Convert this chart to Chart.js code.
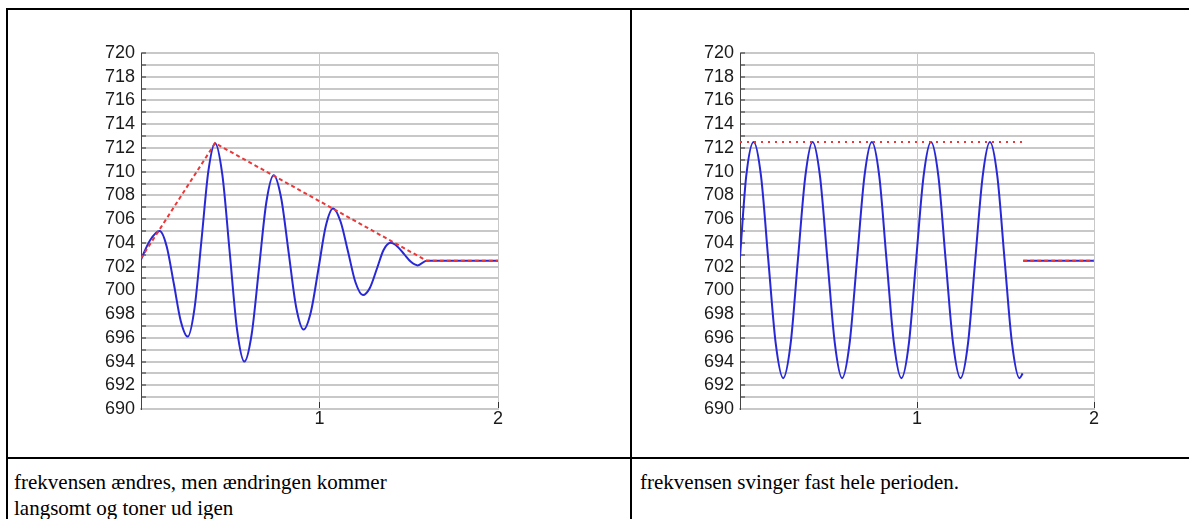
<!DOCTYPE html>
<html><head><meta charset="utf-8">
<script src="https://cdn.jsdelivr.net/npm/chart.js@4.4.0/dist/chart.umd.min.js"></script>
<style>
html,body{margin:0;padding:0;background:#fff;width:1189px;height:519px;overflow:hidden;position:relative;}
.b{position:absolute;background:#000;}
.txt{position:absolute;font-family:"Liberation Serif","Times New Roman",serif;font-size:21px;color:#000;line-height:26px;white-space:nowrap}
canvas{position:absolute}
</style></head><body>
<div class="b" style="left:6px;top:8px;width:1183px;height:2px"></div>
<div class="b" style="left:6px;top:8px;width:2px;height:511px"></div>
<div class="b" style="left:630px;top:8px;width:2px;height:511px"></div>
<div class="b" style="left:6px;top:457px;width:1183px;height:2px"></div>
<div class="txt" style="left:14px;top:469px">frekvensen ændres, men ændringen kommer<br>langsomt og toner ud igen</div>
<div class="txt" style="left:640px;top:469px">frekvensen svinger fast hele perioden.</div>
<canvas id="c1" width="440" height="400" style="left:80px;top:40px"></canvas>
<canvas id="c2" width="440" height="400" style="left:680px;top:40px"></canvas>
<script>
// ---- data ----
const leftWaveX = [0, 0.05, 0.105, 0.144, 0.184, 0.223, 0.262, 0.300, 0.339, 0.377, 0.415, 0.456, 0.497, 0.538, 0.579,
  0.620, 0.661, 0.702, 0.743, 0.785, 0.827, 0.869, 0.911, 0.952, 0.994, 1.035, 1.076, 1.118, 1.160, 1.201, 1.243,
  1.282, 1.321, 1.359, 1.398, 1.436, 1.474, 1.512, 1.550, 1.600, 2.0];
const leftWaveY = [702.6, 704.2, 705.0, 703.7, 700.55, 697.4, 696.1, 698.5, 704.25, 710.0, 712.4, 709.7, 703.2, 696.7, 694.0,
  696.3, 701.85, 707.4, 709.7, 707.8, 703.2, 698.6, 696.7, 698.2, 701.8, 705.4, 706.9, 705.8, 703.25, 700.7, 699.6,
  700.2, 701.8, 703.4, 704.0, 703.7, 703.05, 702.4, 702.1, 702.5, 702.5];
const leftEnvX = [0, 0.415, 1.6, 2.0];
const leftEnvY = [702.7, 712.4, 702.5, 702.5];

const rightWaveX = [0, 0.035, 0.077, 0.119, 0.160, 0.202, 0.244, 0.286, 0.327, 0.369, 0.410, 0.452, 0.494, 0.536, 0.577,
  0.619, 0.661, 0.703, 0.745, 0.787, 0.828, 0.870, 0.912, 0.954, 0.995, 1.037, 1.079, 1.121, 1.162, 1.204, 1.246,
  1.288, 1.329, 1.371, 1.412, 1.454, 1.495, 1.537, 1.579, 1.597];
const rightWaveY = [702.8, 709.6, 712.5, 709.6, 702.55, 695.5, 692.6, 695.5, 702.55, 709.6, 712.5, 709.6, 702.55, 695.5, 692.6,
  695.5, 702.55, 709.6, 712.5, 709.6, 702.55, 695.5, 692.6, 695.5, 702.55, 709.6, 712.5, 709.6, 702.55, 695.5, 692.6,
  695.5, 702.55, 709.6, 712.5, 709.6, 702.55, 695.5, 692.6, 693.0];
const rightEnvX = [0, 1.597];
const rightEnvY = [712.5, 712.5];
const rightFlatX = [1.6, 2.0];
const rightFlatY = [702.5, 702.5];

const yMin = 690, yMax = 720, yStep = 1;
const xMin = 0, xMax = 2, xStep = 1;

const BLUE = 'rgb(40,40,215)';
const RED = 'rgb(235,55,55)';
const GRID = '#c8c8c8';
const TICKC = '#333';
const FONT = {family: '"Liberation Sans", Arial, sans-serif', size: 18};

function pts(xs, ys){ return xs.map((x,i)=>({x:x, y:ys[i]})); }

function makeChart(id, datasets, axisW, padRight){
  return new Chart(document.getElementById(id), {
    type: 'line',
    data: {datasets: datasets},
    options: {
      responsive: false, animation: false,
      layout: {padding: {left: 0, right: padRight, top: 13, bottom: 0}},
      plugins: {legend: {display: false}, tooltip: {enabled: false}},
      elements: {point: {radius: 0}},
      scales: {
        x: {
          type: 'linear', min: xMin, max: xMax,
          afterFit: s => { s.height = 31; s.paddingLeft = 0; s.paddingRight = 0; },
          ticks: {stepSize: xStep, autoSkip: false, padding: 6, color: '#1a1a1a', font: FONT,
                  maxRotation: 0,
                  callback: v => v === 0 ? '' : String(v)},
          grid: {color: c => c.index === 0 ? 'rgba(0,0,0,0)' : GRID, lineWidth: 1,
                 drawTicks: true, tickLength: -7, tickColor: c => c.index === 0 ? 'rgba(0,0,0,0)' : TICKC, tickWidth: 1},
          border: {display: true, color: GRID, width: 2}
        },
        y: {
          type: 'linear', min: yMin, max: yMax,
          afterFit: s => { s.width = axisW; s.paddingTop = 0; s.paddingBottom = 0; },
          ticks: {stepSize: yStep, autoSkip: false, padding: 11, color: '#1a1a1a', font: FONT,
                  callback: v => (v % 2 === 0) ? String(v) : ''},
          grid: {color: GRID, lineWidth: 2, drawTicks: true, tickLength: -5, tickColor: TICKC, tickWidth: 1},
          border: {display: true, color: '#444', width: 1}
        }
      }
    }
  });
}

makeChart('c1', [
  {data: pts(leftEnvX, leftEnvY), borderColor: RED, borderWidth: 2, borderDash: [4,3], tension: 0, order: 0},
  {data: pts(leftWaveX, leftWaveY), borderColor: BLUE, borderWidth: 2, cubicInterpolationMode: 'monotone', order: 1}
], 61, 22);

makeChart('c2', [
  {data: pts(rightEnvX, rightEnvY), borderColor: RED, borderWidth: 2, borderDash: [2,5], tension: 0, order: 0},
  {data: pts(rightFlatX, rightFlatY), borderColor: RED, borderWidth: 2, borderDash: [4,3], tension: 0, order: 0},
  {data: pts(rightFlatX, rightFlatY), borderColor: BLUE, borderWidth: 2, tension: 0, order: 1},
  {data: pts(rightWaveX, rightWaveY), borderColor: BLUE, borderWidth: 2, cubicInterpolationMode: 'monotone', order: 1}
], 60, 26);
</script>
</body></html>
